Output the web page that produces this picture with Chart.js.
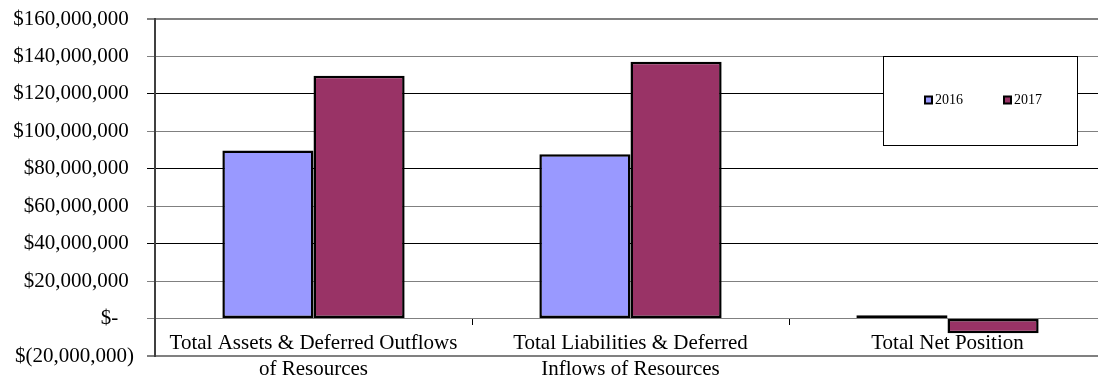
<!DOCTYPE html>
<html>
<head>
<meta charset="utf-8">
<script src="https://cdn.jsdelivr.net/npm/chart.js@4.4.0/dist/chart.umd.min.js"></script>
<style>
  html, body { margin: 0; padding: 0; background: #fff; overflow: hidden; }
  #wrap { width: 1110px; height: 379px; }
</style>
</head>
<body>
<div id="wrap"><canvas id="myChart" width="1110" height="379"></canvas></div>
<script>
const categories = [
  ['Total Assets & Deferred Outflows', 'of Resources'],
  ['Total Liabilities & Deferred', 'Inflows of Resources'],
  'Total Net Position',
];

const values2016 = [89800000, 87700000, 1800000];
const values2017 = [129700000, 137200000, -7800000];

const yMin = -20000000;
const yMax = 160000000;
const yStep = 20000000;

const serif = "'Liberation Serif', 'Times New Roman', serif";

// accounting style money labels, trailing space lines up with the ")" of negatives
function money(v) {
  if (v === 0) return '$-   ';
  const s = Math.abs(v).toLocaleString('en-US');
  return v < 0 ? '$(' + s + ')' : '$' + s + ' ';
}

// gridlines alternate dark / grey, outer frame a bit heavier
function gridColor(ctx) {
  const v = ctx.tick ? ctx.tick.value : 0;
  return (v / yStep) % 2 === 0 && v !== 0 && v !== yMax ? '#000' : '#808080';
}
function gridWidth(ctx) {
  const v = ctx.tick ? ctx.tick.value : 0;
  return v === yMin || v === yMax ? 2 : 1;
}

// legend in a white framed box floating over the plot
const boxLegend = {
  id: 'boxLegend',
  afterDatasetsDraw(chart, args, opts) {
    const ctx = chart.ctx;
    ctx.save();
    ctx.fillStyle = '#fff';
    ctx.fillRect(opts.x, opts.y, opts.w, opts.h);
    ctx.strokeStyle = '#000';
    ctx.lineWidth = 1;
    ctx.strokeRect(opts.x + 0.5, opts.y + 0.5, opts.w, opts.h);
    ctx.font = '14px ' + serif;
    ctx.textBaseline = 'middle';
    const cy = opts.y + opts.h / 2;
    chart.data.datasets.forEach((ds, i) => {
      const sx = opts.x + opts.first + i * opts.gap;
      ctx.fillStyle = '#000';
      ctx.fillRect(sx, cy - 5, 9, 9);
      ctx.fillStyle = ds.backgroundColor;
      ctx.fillRect(sx + 2, cy - 3, 5, 5);
      ctx.fillStyle = '#000';
      ctx.fillText(ds.label, sx + 11, cy);
    });
    ctx.restore();
  }
};

const data = {
  labels: categories,
  datasets: [
    {
      label: '2016',
      data: values2016,
      backgroundColor: '#9999FF',
      borderColor: '#000',
      borderWidth: 2.5,
      borderSkipped: false,
    },
    {
      label: '2017',
      data: values2017,
      backgroundColor: '#993366',
      borderColor: '#000',
      borderWidth: 2.5,
      borderSkipped: false,
    }
  ]
};

const config = {
  type: 'bar',
  data: data,
  plugins: [boxLegend],
  options: {
    responsive: false,
    animation: false,
    layout: { padding: { top: 19, right: 4, bottom: 23, left: 0 } },
    datasets: {
      bar: { categoryPercentage: 0.575, barPercentage: 1 }
    },
    plugins: {
      legend: { display: false },
      tooltip: { enabled: false },
      boxLegend: { x: 883, y: 56, w: 194, h: 89, first: 41, gap: 79 },
    },
    scales: {
      x: {
        position: { y: 0 },
        grid: { drawOnChartArea: false, drawTicks: true, tickLength: 6, color: '#000', offset: true },
        border: { display: false },
        ticks: {
          color: '#000',
          padding: 6,
          maxRotation: 0,
          autoSkip: false,
          font: { family: serif, size: 21, lineHeight: 1.25 },
        },
      },
      y: {
        min: yMin,
        max: yMax,
        afterFit: (scale) => {
          scale.width = 155;
          // labels may hang over the plot edges, keep the frame where padding puts it
          scale.paddingTop = 0;
          scale.paddingBottom = 0;
        },
        grid: { color: gridColor, lineWidth: gridWidth, tickLength: 8 },
        border: { color: '#404040', width: 2 },
        ticks: {
          stepSize: yStep,
          color: '#000',
          padding: 13,
          font: { family: serif, size: 21 },
          callback: (v) => money(v),
        },
      }
    }
  }
};

const myChart = new Chart(document.getElementById('myChart'), config);
</script>
</body>
</html>
